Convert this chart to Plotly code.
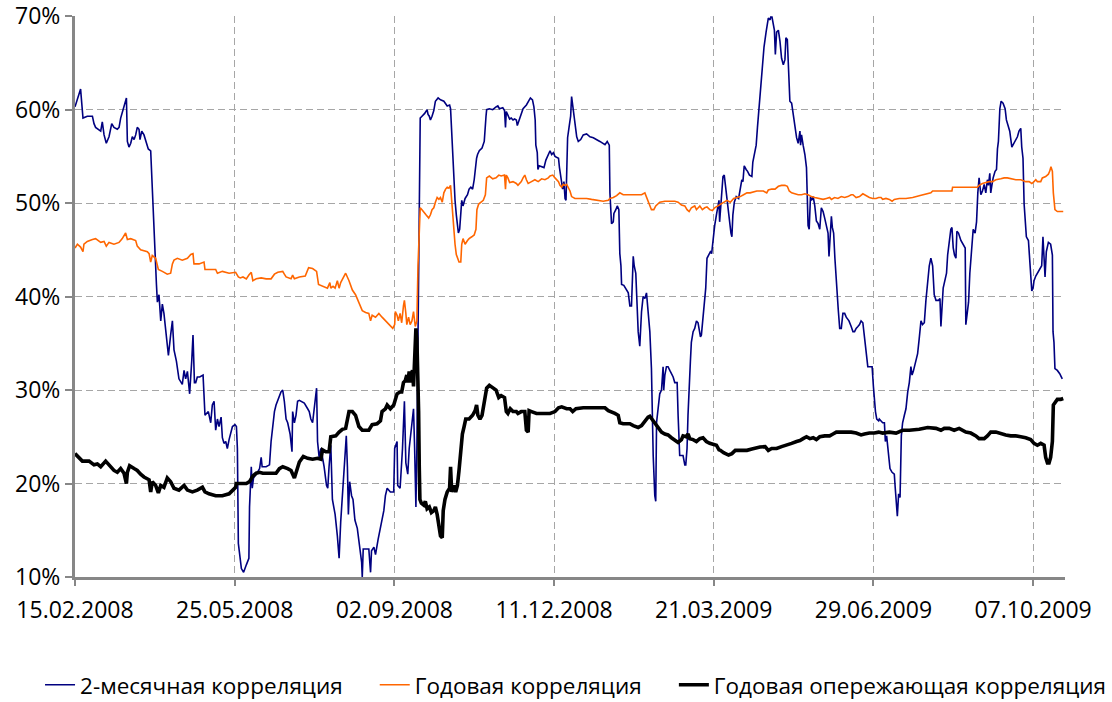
import pandas as pd
import plotly.graph_objects as go

# Days elapsed since 15.02.2008 and correlation values, %
start_date = "2008-02-15"

two_month_days = [
    0, 3.5, 5, 7.7, 10.9, 11.9, 12.9, 16.1, 17.1, 18.2, 19.6, 21.3, 23, 24.4, 26.5, 27.6, 28.6, 30.7, 32.2, 32.8,
    33.8, 34.9, 35.9, 37, 38, 39, 40.1, 40.7, 41.8, 43.2, 44.7, 45.9, 47.4, 48, 48.9, 49.5, 50.1, 51, 51.6, 52.6,
    53.7, 54.7, 55.7, 56.8, 58.5, 59.9, 61, 62, 63.5, 65.1, 67.2, 68.3, 69.3, 70.4, 71.8, 73.1, 73.9, 74.8, 75.6,
    76.6, 78.1, 80.2, 81.4, 83.5, 85, 86, 87.1, 88.1, 89.2, 90.2, 91.5, 92.3, 93.3, 94.4, 95.4, 96.5, 97.5, 98.6,
    100.2, 101.1, 101.7, 102.3,
    104.2, 105.6, 107.3, 108.9, 109.3, 110.4, 111, 111.8, 113.5, 115.6, 116.6, 117.2, 119.7, 121.8, 122.8, 123.9,
    124.9, 125.9, 127.6, 129, 130.1, 131.1, 132.2, 133.2, 134.7, 135.3, 135.9, 136.3, 137.4, 138.4, 139.4, 140.5,
    143.6, 145.7, 146.7, 147.7, 148.8, 149.8, 150.8, 151.3, 151.9, 152.9, 154, 156, 157.5, 158.3, 159.1, 160.2,
    161.2, 162.9, 164.3, 165.4, 166.4, 167.9, 169.1, 169.9, 170.6, 171.2, 172, 173.2, 174.1, 175.3, 176.8, 178.2,
    179.5, 179.9, 180.5, 182, 184, 185.1, 185.7, 187.2, 188.2, 189.8, 191.3, 192.3, 193.4, 194.4, 195.5, 197.5,
    199.6, 200.2, 201.7,
    202.1, 203.6, 205.1, 206.3, 207.2, 208.4, 209.3, 210.6, 212, 212.7, 213.5, 214.1, 214.8, 215.6, 216.2, 217.3,
    219, 220.5, 221.1, 221.9, 222.6, 223.6, 224.7, 225.7, 227.4, 228.9, 231, 233.1, 234.6, 235.2, 235.9, 236.7,
    237.3, 238, 238.8, 239.5, 240.1, 240.9, 241.6, 242.2, 243, 244.3, 245.8, 246.8, 247.9, 249, 250, 250.6, 251.5,
    252.1, 253.2, 254.9, 256.3, 257.4, 257.8, 259.5, 261.6, 263.7, 264.8, 265.8, 267.9, 269, 269.6, 270.1, 271.1,
    272.2, 273.2, 274.3, 275.3, 276.4, 277, 278.1, 279.5, 280.6, 282.7, 284.4, 285.2, 286.5, 287.4, 288.2, 288.6,
    289.5, 289.9, 290.7, 292.2, 293.7, 294.9, 296.4, 297.5, 298.5, 299.6, 300.6, 302.8, 303.4,
    304.8, 305.4, 306.2, 306.9, 307.5, 307.9, 308.5, 309.4, 310.4, 311, 312.1, 313.1, 314.2, 315.2, 316.7, 318.3,
    320.4, 322.5, 324.6, 328.7, 331.9, 333.3, 334.6, 335, 335.4, 336, 337.1, 337.5, 338.7, 339.6, 340.6, 341.2,
    341.9, 342.3, 343.7, 345.4, 346.5, 347.5, 348.5, 349.6, 350.2, 351.2, 352.1, 352.7, 353.7, 354.8, 355.8, 356.9,
    357.9, 358.9, 360, 361, 362.1, 363.1, 363.7, 364.2, 365.2, 366.2, 367.3, 368.3, 368.7, 369.4, 370.4, 371.4,
    372.5, 374.6, 375.6, 377.1, 377.7, 378.7, 380.8, 381.9, 382.5, 383.3, 383.9, 384.6, 385.4, 386, 387.1, 388.1,
    389.2, 390.2, 391.7, 392.3, 393.3, 394.4, 395, 395.8, 397.1, 397.9, 398.7, 399.6, 400.6, 401.7, 402.7, 403.3,
    403.7, 404.6, 405.2, 405.8, 406.6, 407.3, 408.3, 409.3, 410, 410.8, 411.4, 412, 412.9, 414.1, 415.6, 416.6,
    417.6, 418.3, 419.1, 420.3, 421.2, 422.4, 423.9, 424.5, 425.3, 426.6, 427.4, 428, 428.6, 429.5, 430.7, 431.5,
    432.8, 433.6, 434.2, 435.3, 435.7, 436.5, 437.4, 438, 438.6, 439.4, 440.5, 441.5, 442.5, 443.6, 444.6, 445.2,
    446.1, 446.7, 447.7, 448.8, 449.8, 450.8, 451.9, 452.9, 454, 454.4, 455, 456, 457.1, 458.1, 458.5, 459.1,
    459.8, 460.6, 461.2, 462.3, 463.3, 464.3, 465.4, 466.4, 467.4, 468.5, 469.5, 470.6, 471.6, 472.2, 473, 473.7,
    474.3, 475.1, 475.9, 476.4, 477.2, 478, 478.9, 479.9, 480.9, 482, 483, 484.7, 486.1, 487.2, 488.2, 489.2,
    490.3, 491.3, 492.3, 493.4, 494.4, 495.5, 496.5, 497.5, 499.2, 500, 500.6, 501.3, 502.1, 503.3,
    503.7, 505.8, 506.9, 507.5, 508.3, 509, 509.6, 510.4, 511.7, 513.1, 513.7, 514.6, 515, 515.8, 516.7, 517.5,
    518.3, 519.4, 520.4, 521.5, 522.5, 523.5, 524.2, 525, 526.2, 527.7, 528.7, 529.8, 530.8, 531.9, 532.9, 534,
    535, 536, 537.1, 538.1, 539.2, 540.8, 541.7, 542.3, 542.9, 543.7, 545, 545.8, 546.5, 547.5, 548.5, 549.2,
    550, 550.8, 551.7, 552.3, 553.3, 554.8, 556.2, 557.5, 557.9, 558.7, 559.6, 560.4, 561, 562.1, 562.5, 563.7,
    564.6, 565.4, 566.2, 567.3, 568.3, 569.4, 570.4, 571.4, 572.1, 572.9, 573.5, 574.2, 575, 576.2, 577.1, 577.7,
    578.3, 579.2, 580, 581.2, 582.5, 583.3, 584.6, 585.4, 586.7, 588.1, 589.2, 590.2, 591.2, 592.3, 592.9, 593.7,
    594.4, 595, 595.8, 597.1, 597.9, 598.5, 599.2, 600, 600.6, 601.7, 602.7, 604.2, 605.4, 606.2, 606.9, 607.5,
    608.3, 609.6, 611, 612.1, 612.5, 613.1, 613.7, 615.2, 616.7, 618.3,
]
two_month_vals = [
    60.3, 62.2, 59.1, 59.3, 59.3, 58.5, 58.1, 57.7, 58.7, 57.3, 56.4, 57.1, 58.5, 58.1, 57.9, 58.1, 59.1, 60.3, 61.25, 56.6,
    56.0, 56.4, 57.1, 56.8, 57.3, 58.1, 57.9, 56.8, 57.7, 57.3, 56.4, 55.8, 55.6, 53.0, 49.9, 46.8, 43.3, 41.3, 39.4, 40.2,
    37.4, 39.2, 38.2, 36.6, 33.7, 35.9, 37.4, 34.3, 33.1, 31.2, 30.6, 32.1, 31.2, 32.0, 29.6, 33.1, 35.9, 30.8, 30.8,
    31.4, 31.4, 31.6, 27.3, 27.7, 26.5, 28.4, 28.8, 25.7, 26.9, 26.1, 27.1, 24.9, 24.3, 24.5, 23.75, 24.7, 25.3, 26.1,
    26.3, 26.1, 23.75, 13.6,
    10.9, 10.5, 11.3, 12.0, 17.5, 21.8, 19.5, 20.6, 21.0, 21.6, 22.8, 21.8, 21.8, 22.0, 24.5, 26.1,
    27.7, 28.4, 29.2, 29.8, 30.0, 28.8, 26.9, 26.5, 25.3, 23.75, 23.4, 27.7, 26.5, 27.3, 28.8, 28.9,
    28.6, 28.0, 27.7, 26.9, 26.5, 28.0, 29.2, 30.2, 24.5, 22.8, 23.75, 21.8, 19.8, 19.5, 21.8, 24.1,
    18.3, 16.7, 14.4, 12.0, 15.9, 19.8, 23.75, 25.1, 21.8, 16.7, 20.2, 18.7, 18.3, 16.1, 15.2, 13.2,
    11.6, 10.0, 13.0, 13.0, 13.0, 10.5, 12.8, 13.2, 12.4, 14.0, 15.2, 15.9, 17.1, 18.7, 19.5, 19.1,
    19.1, 23.75, 24.5,
    19.8, 19.5, 23.75, 28.8, 22.2, 21.0, 23.75, 25.7, 28.0, 23.75, 17.5, 23.75, 35.5, 49.1, 59.1, 59.3,
    59.6, 60.0, 59.5, 59.3, 58.9, 59.3, 59.9, 60.9, 61.25, 61.05, 60.9, 60.4, 60.5, 60.1, 57.3, 55.0,
    53.0, 50.3, 48.75, 47.6, 46.8, 47.2, 48.6, 50.3, 49.7, 50.5, 50.9, 51.5, 51.7, 51.5, 52.5, 53.8, 54.8,
    55.2, 55.6, 55.9, 56.6, 59.3, 60.0, 60.1, 60.0, 60.3, 60.4, 60.1, 60.2, 59.9, 58.1, 59.8, 59.3,
    59.0, 59.1, 58.9, 59.0, 58.9, 58.3, 58.9, 59.5, 60.1, 60.5, 61.05, 61.25, 61.05, 60.3, 58.9, 56.2,
    55.4, 53.6, 54.0, 53.9, 53.8, 54.6, 55.2, 55.6, 55.2, 55.4, 55.0, 54.8, 53.8,
    52.3, 51.5, 52.3, 50.5, 50.3, 53.8, 57.0, 58.1, 59.3, 61.4, 60.1, 58.9, 57.1, 56.6, 56.8, 57.3,
    57.4, 57.1, 57.0, 56.6, 56.25, 56.6, 56.2, 51.1, 49.5, 47.8, 48.0, 48.9, 49.3, 49.7, 49.3, 44.6,
    43.3, 41.3, 41.2, 40.7, 40.4, 39.0, 39.0, 44.3, 43.3, 42.5, 38.2, 36.25, 34.7, 38.4, 40.0, 39.8,
    40.4, 38.2, 36.25, 32.3, 23.0, 18.7, 18.1, 26.5, 28.4, 29.6, 30.0, 32.5, 30.0, 31.6, 32.5, 32.5,
    32.1, 31.4, 30.8, 30.8, 27.3, 23.0, 23.0, 22.0, 22.0, 23.75, 27.3, 31.2, 33.1, 35.1, 36.25, 36.6,
    37.4, 37.2, 35.7, 35.9, 37.8, 39.4, 40.9, 44.1, 44.6, 44.8, 44.6, 46.4, 47.6, 48.75, 49.9, 50.3,
    48.0, 50.3, 51.9, 52.85, 53.0, 51.9, 50.7, 49.3, 48.4, 46.8, 46.4, 48.75, 50.1, 50.7, 50.5, 51.5,
    52.5, 52.3, 54.0, 53.6, 53.4, 53.0, 52.85, 54.4, 55.0, 56.2, 58.1, 59.3, 60.5, 62.4, 64.8, 66.7,
    68.3, 69.1, 69.8, 69.6, 69.9, 69.9, 69.1, 68.5, 65.9, 68.3, 68.5, 67.3, 65.5, 64.8, 65.35, 67.7,
    67.5, 64.8, 60.9, 60.7, 59.3, 57.9, 57.0, 56.4, 57.7, 56.2, 57.3, 56.2, 55.2, 53.8, 49.9, 47.6,
    47.2, 50.7, 50.3, 50.7, 49.7, 48.1, 47.8, 47.2, 49.5, 49.1, 48.4, 47.6, 46.8, 44.3, 46.4, 48.6,
    47.4, 46.8, 44.1, 42.5, 40.9, 38.6, 36.6, 36.6, 38.2, 38.2, 37.8, 37.4, 36.8, 36.25, 36.25, 36.6,
    36.8, 37.0, 37.4, 37.2, 35.7, 33.9, 32.5, 32.5, 32.5, 30.4, 29.0, 27.7, 26.9, 26.7,
    26.9, 26.5, 26.5, 24.5, 25.1, 23.75, 23.0, 21.6, 21.2, 21.0, 19.5, 17.9, 16.5, 18.9, 18.5, 25.1,
    26.5, 27.3, 28.0, 29.8, 30.8, 32.5, 31.6, 32.0, 32.9, 33.9, 35.5, 37.4, 37.0, 37.2, 39.6, 41.3,
    43.3, 44.1, 43.3, 40.2, 39.6, 39.6, 39.8, 36.8, 39.4, 40.9, 41.9, 42.5, 44.45, 46.0, 47.2, 47.4,
    45.2, 44.45, 44.1, 47.0, 46.8, 46.0, 45.6, 45.2, 37.0, 38.2, 39.4, 42.5, 43.7, 46.0, 47.2, 46.8,
    48.0, 51.1, 52.7, 50.9, 51.3, 52.0, 51.1, 52.5, 51.9, 53.2, 51.1, 51.9, 52.7, 53.4, 53.6, 55.8,
    56.6, 60.1, 60.9, 60.7, 60.1, 58.9, 58.3, 57.7, 56.0, 56.4, 56.8, 57.1, 57.7, 58.0, 56.0, 54.8,
    49.9, 48.4, 46.4, 46.0, 44.1, 42.5, 40.6, 40.9, 41.7, 42.2, 42.5, 42.9, 43.3, 46.4, 44.1, 42.1,
    44.8, 45.8, 45.6, 44.45, 36.25, 35.1, 32.3, 32.1, 31.75, 31.2,
]

annual_days = [
    0, 1.5, 3.5, 5, 5.6, 7.7, 10.9, 12.9, 16.1, 18.2, 19.6, 21.3, 24.4, 27.6, 28.6, 29.6, 31.7, 32.8, 34.9, 38,
    39, 41.1, 45.3, 46.4, 47.4, 48.4, 50.5, 52.2, 54.7, 57.8, 59.9, 61, 62, 64.1, 67.2, 70.4, 72.5, 73.9, 74.5,
    77.7, 80.8, 81.4, 83.9, 88.1, 89.2, 92.3, 96.5, 100.6, 102.3,
    103.5, 105.2, 107.3, 108.9, 110.4, 111.4, 113.5, 116.6, 119.7, 122.8, 124.9, 127, 130.1, 131.1, 132.2, 135.3,
    136.3, 137.4, 140.5, 144.2, 146.3, 148.8, 151.3, 152.5, 155, 158.1, 159.6, 160.2, 161.6, 162.9, 164.3, 165.4,
    166.4, 168.5, 169.5, 171.6, 173.7, 175.7, 177.8, 179.9, 182, 184, 185.1, 186.1, 188.2, 190.3, 192.3, 194,
    195.5, 197.5, 199, 200.2, 200.6, 201.7,
    202.5, 203.6, 204.6, 205.7, 206.3, 207.2, 207.8, 208.9, 209.9, 211, 212, 213.1, 214.1, 214.8, 215.6, 216.2,
    217.3, 218.4, 219.8, 221.5, 222.6, 223.6, 224.7, 225.7, 226.8, 227.9, 228.9, 230, 231, 232.1, 233.1, 234.2,
    235.2, 235.9, 236.7, 237.3, 238, 238.8, 239.5, 240.5, 241.6, 242.2, 243, 244.3, 245.8, 246.8, 248.5, 250,
    251.1, 251.7, 252.8, 254.2, 255.7, 257, 257.8, 259.5, 261.6, 263.7, 265.4, 266.9, 269, 269.6, 270.1, 271.1,
    272.2, 274.3, 276.4, 277.4, 279.5, 280.6, 281.7, 282.7, 283.8, 285.9, 288, 290.1, 292.2, 294.3, 296.4, 297.5,
    299.2, 300.6, 302.8,
    303.7, 304.8, 305.8, 306.9, 307.9, 309, 310, 311, 313.1, 316.2, 320.4, 323.5, 326.7, 330.8, 334, 335, 337.1,
    339.2, 341.2, 343.3, 347.5, 351.7, 354.8, 356.9, 357.9, 360, 361, 362.5, 363.7, 366.2, 369.4, 372.5, 375.6,
    377.7, 379.8, 381.9, 383.3, 384.6, 386, 388.1, 389.2, 391.3, 392.9, 394.4, 395.8, 397.5, 399.2, 400.6, 402.7,
    404.2, 406.2, 408.3, 410.4, 411.4, 412.5, 414.5, 416.6, 418.7, 420.8, 422.8, 424.9, 427, 429, 431.1, 433.2,
    434.2, 436.3, 438.4, 440.5, 442.5, 444.6, 446.1, 447.3, 448.8, 450.8, 452.9, 455, 457.1, 459.1, 461.2, 463.3,
    466.4, 468.5, 470.6, 472.6, 473.7, 475.7, 477.8, 479.9, 482, 484, 486.1, 487.2, 489.2, 491.3, 493.4, 495.5,
    497.5, 499.6, 501.7, 503.3,
    504.8, 505.8, 507.9, 510, 511.7, 513.1, 516.2, 520.4, 524.6, 528.7, 530.8, 532.9, 536, 537.1, 541.2, 545.4,
    549.2, 549.6, 553.7, 560, 565.2, 566.2, 568.3, 570.4, 572.5, 574.6, 576.7, 579.8, 581.9, 583.9, 586, 589.2,
    592.3, 595.4, 597.5, 599.2, 600.6, 601.7, 602.7, 604.8, 605.8, 607.9, 609.6, 610.4, 611.2, 612.1, 612.7, 613.3,
    613.7, 615.2, 617.3, 618.9,
]
annual_vals = [
    45.2, 45.6, 45.3, 44.8, 45.6, 45.9, 46.1, 46.2, 45.8, 45.9, 45.4, 45.8, 45.6, 45.8, 46.0, 46.2, 46.8, 46.1, 46.2, 46.0,
    45.4, 45.0, 44.8, 44.6, 43.7, 44.4, 44.1, 42.9, 42.7, 42.4, 42.5, 43.5, 43.9, 44.1, 43.9, 44.1, 44.5, 44.6, 43.5,
    43.5, 43.7, 42.9, 42.9, 42.9, 42.5, 42.7, 42.5, 42.6, 42.1,
    42.0, 42.1, 41.9, 42.3, 42.6, 41.7, 41.9, 42.0, 41.9, 41.9, 42.4, 42.6, 42.7, 42.4, 42.1, 41.9,
    42.3, 41.9, 42.1, 42.2, 43.1, 43.0, 42.7, 41.3, 41.1, 40.9, 41.5, 40.9, 41.1, 40.9, 41.7, 40.9,
    41.5, 42.1, 42.5, 41.7, 40.7, 40.2, 39.4, 38.5, 38.3, 38.2, 37.4, 38.0, 37.8, 38.2, 37.8, 37.5,
    37.2, 36.8, 36.6, 37.0, 38.4, 38.0,
    37.4, 38.2, 37.2, 39.0, 39.6, 38.2, 37.0, 37.8, 37.0, 37.4, 38.4, 36.8, 37.4, 43.3, 46.0, 49.5,
    49.3, 49.1, 48.75, 48.4, 48.75, 49.3, 49.5, 50.1, 50.6, 50.4, 50.6, 50.1, 51.1, 51.5, 51.7, 51.6,
    51.9, 50.3, 48.0, 47.2, 45.6, 44.5, 44.1, 43.7, 43.7, 45.6, 46.2, 45.6, 46.0, 46.2, 46.4, 46.6,
    47.2, 49.3, 49.9, 50.1, 50.3, 50.9, 52.7, 52.9, 52.6, 52.7, 53.0, 52.9, 53.0, 51.5, 53.0, 52.7,
    52.2, 52.3, 52.1, 51.9, 52.3, 52.7, 53.0, 52.5, 52.1, 52.3, 52.5, 52.3, 52.6, 52.5, 52.7, 52.9,
    53.0, 52.7, 52.3,
    51.9, 51.7, 52.0, 51.9, 52.0, 51.7, 51.3, 50.7, 50.5, 50.5, 50.5, 50.4, 50.3, 50.2, 50.3, 50.5, 50.6,
    50.8, 51.1, 50.9, 50.9, 50.9, 50.9, 51.1, 50.7, 49.9, 49.3, 49.3, 49.7, 50.1, 50.2, 50.2, 50.2,
    50.1, 49.8, 49.7, 49.3, 49.1, 49.5, 49.7, 49.3, 49.7, 49.3, 49.5, 49.6, 49.3, 49.2, 49.5, 49.7,
    49.9, 50.1, 50.3, 50.1, 50.3, 50.5, 50.6, 50.7, 50.9, 51.1, 51.1, 51.2, 51.3, 51.3, 51.3, 51.1,
    51.4, 51.5, 51.5, 51.8, 51.9, 51.9, 51.8, 51.3, 51.1, 51.0, 50.9, 50.9, 51.0, 50.9, 50.7, 50.6,
    50.5, 50.4, 50.5, 50.6, 50.4, 50.6, 50.5, 50.7, 50.6, 50.7, 50.9, 50.9, 50.6, 50.7, 51.0, 50.8,
    50.6, 50.5, 50.5, 50.6,
    50.6, 50.4, 50.5, 50.4, 50.2, 50.4, 50.5, 50.5, 50.6, 50.8, 50.9, 51.0, 51.1, 51.3, 51.3, 51.3,
    51.3, 51.7, 51.7, 51.7, 51.7, 51.9, 52.1, 52.2, 52.3, 52.3, 52.5, 52.6, 52.7, 52.7, 52.6, 52.5,
    52.5, 52.3, 52.3, 52.1, 52.3, 52.5, 52.3, 52.3, 52.7, 52.85, 53.1, 53.4, 53.9, 53.4, 51.1, 50.1,
    49.3, 49.1, 49.1, 49.1,
]

leading_days = [
    0, 2.5, 4.6, 8.8, 11.9, 14, 16.1, 19.2, 22.3, 24.4, 26.5, 28.6, 30.7, 32.2, 32.8, 34.2, 37, 39, 41.1, 43.2,
    46.4, 47.4, 48.4, 50.5, 52.2, 53.7, 55.7, 57.8, 59.9, 62, 65.1, 68.3, 70.4, 73.5, 76.6, 79.8, 81.4, 83.9, 88.1,
    92.3, 96.5, 98.6, 100.6,
    101, 104.2, 107.3, 109.3, 111.4, 113.5, 115.6, 117.6, 121.8, 125.9, 128, 130.1, 133.2, 135.3, 137.4, 138.4,
    140.5, 143, 145.7, 148.8, 151.9, 154, 155, 157.1, 159.1, 160.2, 163.3, 165.4, 167.4, 169.5, 171.6, 173.7,
    175.7, 177.8, 179.9, 184, 186.1, 189.2, 191.3, 192.3, 194.4, 195.5, 197.5, 199.6, 201.7,
    203.6, 204.6, 205.7, 206.8, 207.8, 208.4, 209.3, 209.9, 210.6, 211.4, 212, 212.7, 213.5, 214.1, 214.8, 215.2,
    215.6, 216, 216.9, 218.4, 219.4, 220.5, 221.9, 223.2, 224.7, 225.7, 226.8, 227.9, 228.9, 230, 230.6, 231.7,
    233.1, 234.6, 235.2, 235.9, 237.3, 238.4, 239.5, 240.5, 241.6, 242.6, 243.7, 244.7, 246.8, 249, 250.6, 251.5,
    252.3, 253.6, 254.9, 256.3, 257.8, 259.5, 261.6, 263.7, 265.4, 266.9, 269, 270.1, 271.1, 272.6, 274.3, 276.4,
    277.4, 279.5, 281.7, 282.7, 283.8, 284.4, 285.9, 289, 293.3, 297.5, 300.6, 302.8,
    304.8, 307.9, 310, 311.7, 313.7, 318.3, 324.6, 331.9, 334, 336, 338.1, 340.2, 341.2, 343.3, 347.5, 349.6,
    352.7, 354.8, 356.9, 358.9, 360, 362.1, 364.2, 367.3, 369.4, 371.4, 373.5, 375.6, 377.7, 379.8, 380.8, 382.9,
    383.9, 385, 387.1, 389.2, 391.3, 393.3, 395.4, 397.5, 399.6, 401.7, 403.3,
    404.2, 406.2, 409.3, 411.4, 413.5, 416.6, 420.8, 423.9, 425.9, 429, 432.2, 434.2, 436.3, 439.4, 442.5, 445.7,
    448.8, 451.9, 454, 456, 458.1, 460.2, 462.3, 464.3, 466.4, 469.5, 472.6, 474.7, 476.8, 479.9, 483, 486.1,
    489.2, 492.3, 494.4, 497.5, 500.6, 503.3,
    505.8, 510, 514.2, 518.3, 522.5, 528.7, 534, 539.2, 542.3, 544.4, 547.5, 550.6, 553.7, 555.8, 557.9, 561,
    564.2, 566.2, 569.4, 571.4, 573.5, 576.7, 579.8, 582.9, 586, 589.2, 592.3, 595.4, 598.5, 600.6, 602.7, 604.8,
    606.9, 607.9, 609, 610, 611, 612.1, 612.7, 613.7, 615.2, 617.3, 618.9,
]
leading_vals = [
    23.2, 22.7, 22.4, 22.4, 22.0, 22.1, 21.8, 22.4, 21.8, 21.4, 21.2, 21.6, 21.1, 20.0, 21.2, 21.9, 21.6, 21.4, 21.0, 20.7,
    20.4, 19.1, 20.2, 19.8, 19.0, 19.8, 19.6, 20.6, 20.2, 19.5, 19.3, 19.8, 19.3, 19.1, 19.3, 19.6, 19.1, 18.9, 18.7,
    18.7, 18.9, 19.3, 19.6,
    20.0, 20.0, 20.0, 20.2, 20.8, 21.1, 21.2, 21.1, 21.1, 21.1, 21.6, 21.8, 21.6, 21.4, 20.6, 21.2,
    22.3, 22.9, 22.7, 22.6, 22.7, 22.6, 23.6, 23.4, 23.4, 25.0, 25.1, 25.5, 25.8, 25.9, 27.7, 27.7,
    27.3, 26.1, 25.7, 25.7, 26.3, 26.4, 26.7, 27.7, 28.0, 28.4, 28.0, 28.4, 29.6,
    29.8, 29.8, 30.8, 31.0, 31.6, 30.8, 32.0, 30.8, 31.8, 32.1, 30.4, 33.1, 36.6, 35.5, 31.6, 27.7,
    21.8, 18.3, 17.9, 17.7, 18.1, 17.3, 17.5, 16.9, 17.1, 17.5, 16.7, 15.2, 14.4, 14.2, 17.1, 18.3,
    19.1, 19.5, 21.8, 19.1, 19.8, 19.1, 19.8, 21.4, 23.75, 25.3, 26.1, 26.9, 26.9, 27.3, 27.8, 28.4,
    27.3, 26.9, 27.3, 28.6, 30.2, 30.5, 30.2, 30.0, 29.2, 29.4, 29.2, 27.7, 27.5, 28.0, 27.7, 27.7,
    27.5, 27.7, 27.7, 25.7, 25.5, 27.8, 27.7, 27.5, 27.5, 27.5, 27.7, 28.1,
    28.2, 28.0, 28.0, 27.7, 28.0, 28.1, 28.1, 28.1, 27.8, 27.7, 27.5, 27.3, 26.5, 26.4, 26.4, 26.2,
    26.0, 26.2, 26.7, 27.1, 27.2, 26.7, 26.3, 25.5, 25.3, 25.2, 24.9, 24.7, 24.4, 24.7, 25.1, 25.0,
    25.3, 24.8, 24.7, 24.5, 24.8, 24.9, 24.5, 24.3, 24.2, 24.1, 23.6,
    23.55, 23.3, 23.05, 23.2, 23.55, 23.55, 23.55, 23.7, 23.8, 23.9, 23.95, 23.55, 23.75, 23.75, 23.95, 24.1,
    24.3, 24.5, 24.6, 24.8, 25.0, 24.8, 24.9, 24.7, 25.0, 25.1, 25.1, 25.3, 25.5, 25.5, 25.5, 25.5,
    25.4, 25.2, 25.3, 25.4, 25.4, 25.5,
    25.4, 25.5, 25.4, 25.7, 25.7, 25.8, 26.0, 25.9, 25.7, 25.9, 25.9, 25.7, 25.9, 25.7, 25.5, 25.4,
    25.1, 24.8, 24.8, 25.1, 25.5, 25.5, 25.3, 25.2, 25.1, 25.1, 25.0, 24.9, 24.7, 24.3, 24.1, 24.3,
    24.1, 22.8, 22.2, 22.2, 22.8, 24.5, 28.4, 28.6, 29.0, 29.0, 29.1,
]

series_names = ["2-месячная корреляция", "Годовая корреляция", "Годовая опережающая корреляция"]
series_colors = ["#000080", "#FF6600", "#000000"]
series_widths = [1.6, 1.6, 3.6]

x_tick_step_days = 100
x_span_days = 620
y_ticks = [10, 20, 30, 40, 50, 60, 70]
y_tick_labels = ["10%", "20%", "30%", "40%", "50%", "60%", "70%"]

start = pd.Timestamp(start_date)


def to_dates(days):
    return start + pd.to_timedelta(days, unit="D")


# one legend per series so the three entries sit in a single row below the plot
legend_ids = ["legend", "legend2", "legend3"]
legend_left = [0.036, 0.337, 0.606]

fig = go.Figure()
for name, days, vals, color, width, lid in zip(
    series_names,
    [two_month_days, annual_days, leading_days],
    [two_month_vals, annual_vals, leading_vals],
    series_colors,
    series_widths,
    legend_ids,
):
    fig.add_trace(go.Scatter(
        x=to_dates(days), y=vals, mode="lines", name=name,
        line=dict(color=color, width=width), legend=lid,
    ))

axis_grey = "#878787"
grid_grey = "#A6A6A6"

legend_style = dict(
    orientation="h", xref="container", xanchor="left",
    yref="container", y=0.024, yanchor="middle",
    font=dict(size=22.5), bgcolor="rgba(0,0,0,0)", borderwidth=0,
)

fig.update_layout(
    width=1112, height=702,
    margin=dict(l=75, r=47, t=16, b=125, autoexpand=False),
    paper_bgcolor="white", plot_bgcolor="white",
    font=dict(family="Open Sans, sans-serif", size=23, color="#000000"),
    showlegend=True,
    **{lid: dict(legend_style, x=lx) for lid, lx in zip(legend_ids, legend_left)},
)
fig.update_xaxes(
    type="date",
    range=[start, start + pd.Timedelta(days=x_span_days)],
    tick0=start_date, dtick=x_tick_step_days * 86400000,
    tickformat="%d.%m.%Y",
    showline=True, linecolor=axis_grey, linewidth=3,
    ticks="outside", ticklen=6, tickwidth=2, tickcolor=axis_grey,
    ticklabelstandoff=4,
    showgrid=True, gridcolor=grid_grey, gridwidth=1, griddash="7px,4px",
    zeroline=False, ticklabeloverflow="allow",
)
fig.update_yaxes(
    range=[10, 70.02], tickmode="array", tickvals=y_ticks, ticktext=y_tick_labels,
    showline=True, linecolor=axis_grey, linewidth=3,
    ticks="outside", ticklen=7, tickwidth=2, tickcolor=axis_grey,
    showgrid=True, gridcolor=grid_grey, gridwidth=1, griddash="7px,4px",
    zeroline=False, ticklabeloverflow="allow",
)

fig.write_html("out.html")
